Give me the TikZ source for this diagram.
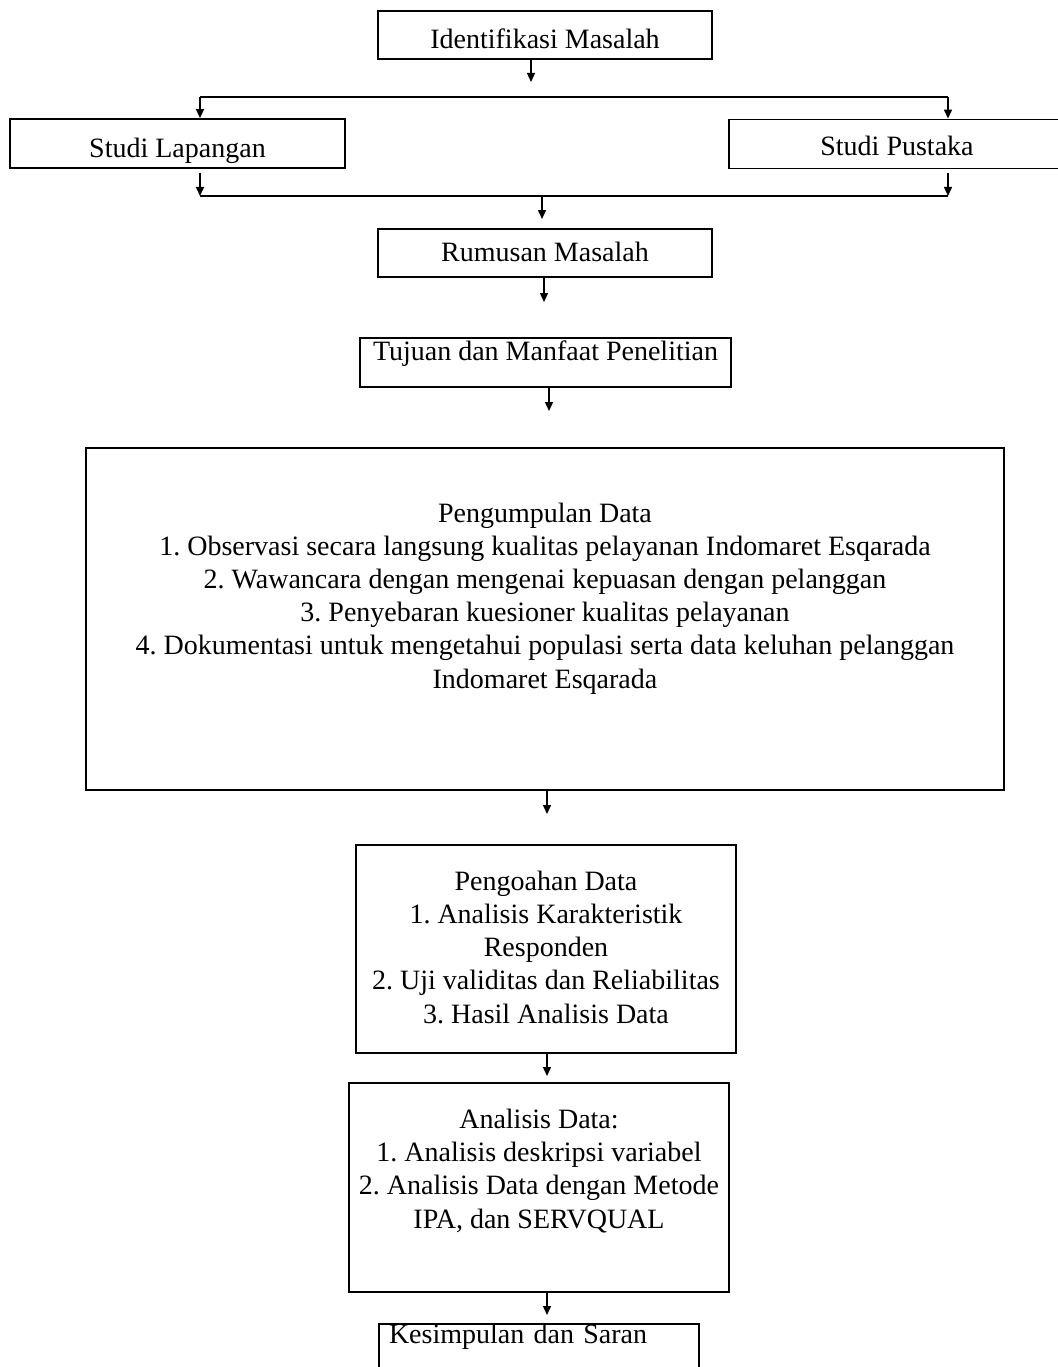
\documentclass[tikz,border=0pt]{standalone}
\usepackage{fontspec}
\setmainfont{Liberation Serif}
\usetikzlibrary{arrows.meta}
\frenchspacing
\begin{document}
\begin{tikzpicture}[x=1pt, y=-1pt,
box/.style={rectangle, draw=black, line width=1.8pt, inner sep=3pt, font=\fontsize{28}{33.2}\selectfont},
tx/.style 2 args={text height=#1, text depth=#2},
arr/.style={-{Triangle[length=9pt, width=8pt]}, line width=1.4pt},
line/.style={line width=1.8pt},
]
\useasboundingbox (0,0) rectangle (1057,1367);
\node[box, tx={30pt}{3pt}, minimum width=334pt, minimum height=48pt] (idm) at (545,35) {Identifikasi Masalah};
\node[box, tx={30pt}{1pt}, minimum width=335pt, minimum height=49pt] (lap) at (177.5,143.5) {Studi Lapangan};
\node[box, tx={30pt}{6.6pt}, minimum width=336pt, minimum height=49pt] (pus) at (897,144) {Studi Pustaka};
\node[box, tx={25pt}{7.6pt}, minimum width=334pt, minimum height=47.5pt] (rum) at (545,253) {Rumusan Masalah};
\node[box, tx={15pt}{18.6pt}, minimum width=371pt, minimum height=49pt] (tuj) at (545.5,362.5) {Tujuan dan Manfaat Penelitian};
\node[box, tx={150pt}{12pt}, align=center, minimum width=918pt, minimum height=342pt] (pgd) at (545,619) {Pengumpulan Data\\
1. Observasi secara langsung kualitas pelayanan Indomaret Esqarada\\
2. Wawancara dengan mengenai kepuasan dengan pelanggan\\
3. Penyebaran kuesioner kualitas pelayanan\\
4. Dokumentasi untuk mengetahui populasi serta data keluhan pelanggan\\
Indomaret Esqarada};
\node[box, tx={150pt}{2pt}, align=center, minimum width=380pt, minimum height=208pt] (pgo) at (546,949) {Pengoahan Data\\
1. Analisis Karakteristik\\
Responden\\
2. Uji validitas dan Reliabilitas\\
3. Hasil Analisis Data};
\node[box, tx={100pt}{19pt}, align=center, minimum width=380pt, minimum height=209pt] (ana) at (539,1187.5) {Analisis Data:\\
1. Analisis deskripsi variabel\\
2. Analisis Data dengan Metode\\
IPA, dan SERVQUAL};
\node[box, tx={17pt}{40pt}, anchor=north, inner xsep=10pt, text width=300pt, align=left] (kes) at (539,1323) {Kesimpulan dan Saran};

% connectors
\coordinate (a1) at (531,82);
\coordinate (splL) at (200,97);
\coordinate (splR) at (948,97);
\coordinate (mrgL) at (200,196);
\coordinate (mrgR) at (948,196);
\coordinate (a2) at (542,219);
\coordinate (a3) at (544,302);
\coordinate (a4) at (549,411);
\coordinate (a5) at (547,814);
\coordinate (a6) at (547,1076);
\coordinate (a7) at (547,1315);

\draw[arr] (idm.south -| a1) -- (a1);
\draw[line] (splL) -- (splR);
\draw[arr] (splL) -- (splL |- lap.north);
\draw[arr] (splR) -- (splR |- pus.north);
\draw[arr, shorten <=4pt] (lap.south -| mrgL) -- (mrgL);
\draw[arr, shorten <=4pt] (pus.south -| mrgR) -- (mrgR);
\draw[line] (mrgL) -- (mrgR);
\draw[arr] (a2 |- mrgL) -- (a2);
\draw[arr] (rum.south -| a3) -- (a3);
\draw[arr] (tuj.south -| a4) -- (a4);
\draw[arr] (pgd.south -| a5) -- (a5);
\draw[arr] (pgo.south -| a6) -- (a6);
\draw[arr] (ana.south -| a7) -- (a7);
\end{tikzpicture}
\end{document}
